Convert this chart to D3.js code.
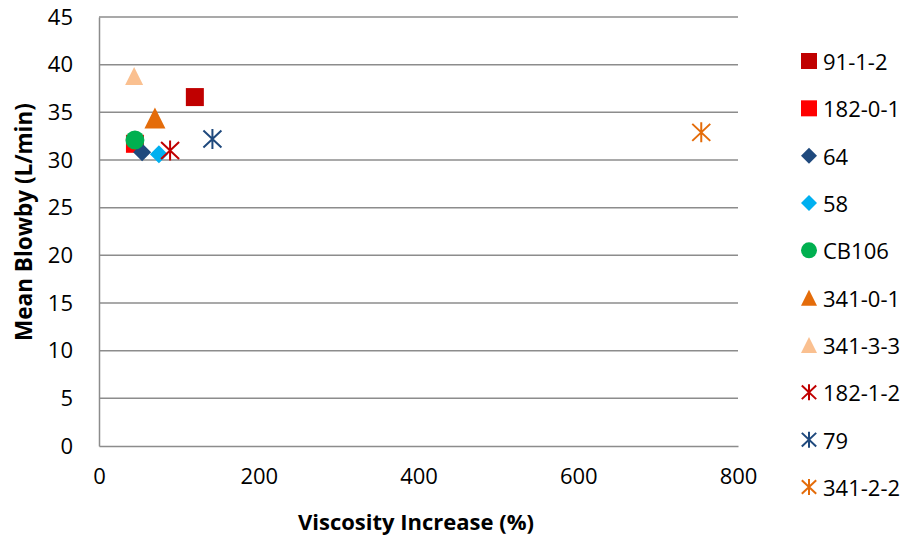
<!DOCTYPE html>
<html>
<head>
<meta charset="utf-8">
<script src="https://cdn.jsdelivr.net/npm/d3@7"></script>
<style>
  html, body { margin: 0; padding: 0; background: #fff; }
  svg { display: block; font-family: "Open Sans", sans-serif; }
</style>
</head>
<body>
<svg id="chart" width="909" height="538"></svg>
<script>
// Series names, colours and marker shapes
const seriesNames  = ["91-1-2", "182-0-1", "64", "58", "CB106", "341-0-1", "341-3-3", "182-1-2", "79", "341-2-2"];
const seriesColors = ["#C00000", "#FF0000", "#1F497D", "#00B0F0", "#00B050", "#E46C0A", "#FAC090", "#C00000", "#1F497D", "#E46C0A"];
const seriesShapes = ["square", "square", "diamond", "diamond", "circle", "triangle", "triangle", "star", "star", "star"];

// Viscosity increase (%) and mean blowby (L/min) per series
const viscosityIncrease = [120, 45, 54, 75, 45, 70, 44, 89, 142, 754];
const meanBlowby        = [36.6, 31.7, 30.8, 30.6, 32.1, 34.4, 38.8, 31.0, 32.2, 32.9];

// Axis ticks
const xTicks = [0, 200, 400, 600, 800];
const yTicks = [0, 5, 10, 15, 20, 25, 30, 35, 40, 45];

const svg = d3.select("#chart");
const plot = { left: 99, right: 738, top: 17, bottom: 446 };

const x = d3.scaleLinear().domain([0, 800]).range([plot.left, plot.right]);
const y = d3.scaleLinear().domain([0, 45]).range([plot.bottom, plot.top]);

const gridColor = "#8C8C8C";

// Horizontal gridlines
svg.append("g")
  .selectAll("line")
  .data(yTicks.filter(d => d > 0))
  .join("line")
  .attr("x1", plot.left).attr("x2", plot.right)
  .attr("y1", d => y(d)).attr("y2", d => y(d))
  .attr("stroke", gridColor).attr("stroke-width", 1.5);

// Y axis
const yAxis = svg.append("g")
  .attr("transform", `translate(${plot.left},0)`)
  .call(d3.axisLeft(y).tickValues(yTicks).tickSize(0).tickPadding(26));
yAxis.select(".domain").attr("stroke", gridColor).attr("stroke-width", 1.5);
yAxis.selectAll("text").attr("font-size", 22).attr("fill", "#000")
  .attr("font-family", "'Open Sans', sans-serif");

// X axis
const xAxis = svg.append("g")
  .attr("transform", `translate(0,${plot.bottom})`)
  .call(d3.axisBottom(x).tickValues(xTicks).tickSize(0).tickPadding(22));
xAxis.select(".domain").attr("stroke", gridColor).attr("stroke-width", 1.5);
xAxis.selectAll("text").attr("font-size", 22).attr("fill", "#000")
  .attr("font-family", "'Open Sans', sans-serif");

// Axis titles
svg.append("text")
  .attr("x", 416).attr("y", 521)
  .attr("text-anchor", "middle").attr("dominant-baseline", "central")
  .attr("font-size", 22).attr("font-weight", "bold")
  .text("Viscosity Increase (%)");

svg.append("text")
  .attr("transform", "translate(23,222) rotate(-90)")
  .attr("text-anchor", "middle").attr("dominant-baseline", "central")
  .attr("font-size", 22.5).attr("font-weight", "bold")
  .text("Mean Blowby (L/min)");

// Marker drawing
function drawMarker(g, shape, color, s) {
  const h = s / 2;
  if (shape === "square") {
    g.append("rect").attr("x", -h).attr("y", -h).attr("width", s).attr("height", s).attr("fill", color);
  } else if (shape === "diamond") {
    g.append("path").attr("d", `M0,${-h}L${h},0L0,${h}L${-h},0Z`).attr("fill", color);
  } else if (shape === "circle") {
    g.append("circle").attr("r", h).attr("fill", color);
  } else if (shape === "triangle") {
    g.append("path").attr("d", `M0,${-h}L${h},${h}L${-h},${h}Z`).attr("fill", color);
  } else if (shape === "star") {
    const w = h * 0.9, v = h * 0.85;
    g.append("path")
      .attr("d", `M0,${-h}V${h}M${-w},${-v}L${w},${v}M${w},${-v}L${-w},${v}`)
      .attr("fill", "none").attr("stroke", color).attr("stroke-width", 2);
  }
}

const markerSizes = [18, 18, 18, 18, 19, 21, 18, 20, 20, 20];

// Data points
const points = seriesNames.map((name, i) => ({
  name, color: seriesColors[i], shape: seriesShapes[i],
  vx: viscosityIncrease[i], vy: meanBlowby[i], size: markerSizes[i]
}));

svg.append("g")
  .selectAll("g")
  .data(points)
  .join("g")
  .attr("transform", d => `translate(${x(d.vx)},${y(d.vy)})`)
  .each(function (d) { drawMarker(d3.select(this), d.shape, d.color, d.size); });

// Legend
const legend = svg.append("g");
const legendY = d3.scalePoint().domain(seriesNames).range([61, 487]);
const items = legend.selectAll("g")
  .data(points)
  .join("g")
  .attr("transform", d => `translate(809,${legendY(d.name)})`);
items.each(function (d) { drawMarker(d3.select(this), d.shape, d.color, 16); });
items.append("text")
  .attr("x", 14).attr("y", 0)
  .attr("dominant-baseline", "central")
  .attr("font-size", 22)
  .attr("fill", "#000")
  .text(d => d.name);
</script>
</body>
</html>
